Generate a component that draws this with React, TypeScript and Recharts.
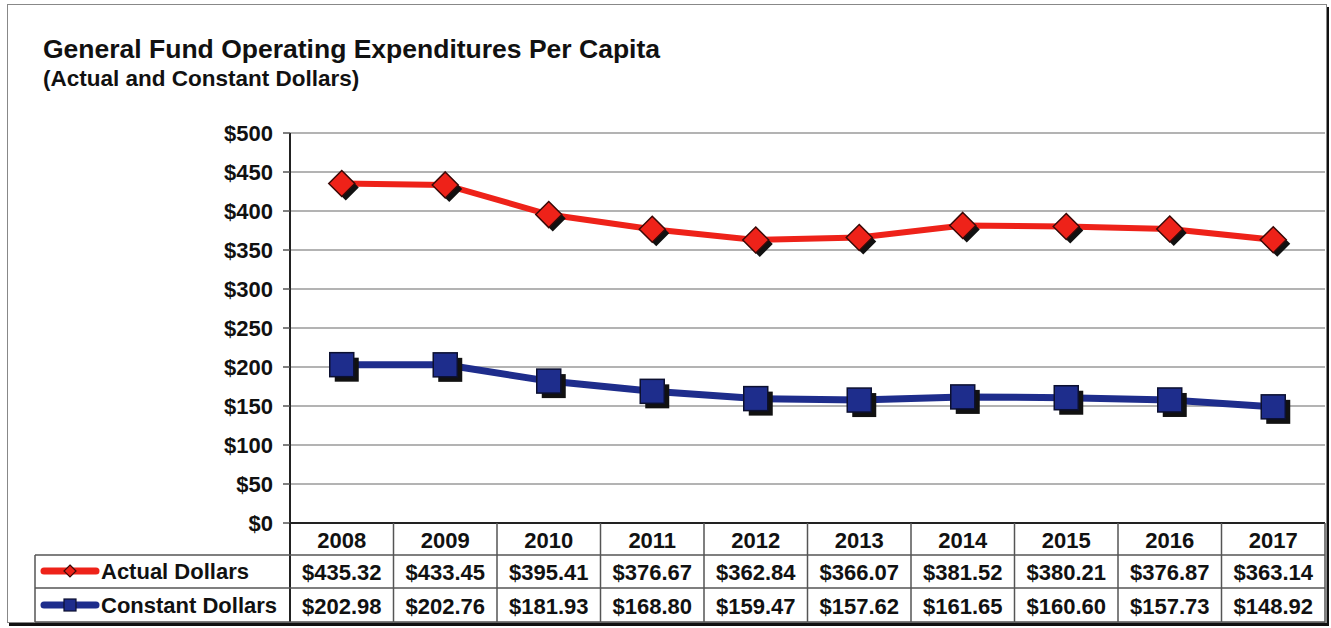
import React from 'react';
import { CartesianGrid, Line, LineChart, XAxis, YAxis } from 'recharts';

const years = ['2008', '2009', '2010', '2011', '2012', '2013', '2014', '2015', '2016', '2017'];
const actualDollars = [435.32, 433.45, 395.41, 376.67, 362.84, 366.07, 381.52, 380.21, 376.87, 363.14];
const constantDollars = [202.98, 202.76, 181.93, 168.8, 159.47, 157.62, 161.65, 160.6, 157.73, 148.92];
const yTicks = [0, 50, 100, 150, 200, 250, 300, 350, 400, 450, 500];

const data = years.map((year, i) => ({
  year,
  actual: actualDollars[i],
  constant: constantDollars[i],
}));

const FONT = '"Liberation Sans", Arial, sans-serif';
const W = 1331;
const H = 628;
const PLOT_LEFT = 290;
const PLOT_RIGHT = 1325;
const PLOT_TOP = 133;
const AXIS_H = 100;
const RED = '#ee2219';
const BLUE = '#1e2d8c';
const TABLE_LINE = '#555';

function money(v: number) {
  return `$${v.toFixed(2)}`;
}

function TableTick(props: any) {
  const { x, y, payload } = props;
  const i = years.indexOf(String(payload.value));
  const colW = (PLOT_RIGHT - PLOT_LEFT) / years.length;
  const l = x - colW / 2;
  const r = x + colW / 2;
  const textStyle = { fontFamily: FONT, fontSize: 22, fontWeight: 700, fill: '#111' };
  return (
    <g>
      {i === 0 && <line x1={l} y1={y} x2={l} y2={y + 99} stroke="#222" strokeWidth={2} />}
      <line x1={r} y1={y} x2={r} y2={y + 99} stroke={TABLE_LINE} strokeWidth={1.5} />
      <line x1={l} y1={y + 32} x2={r} y2={y + 32} stroke={TABLE_LINE} strokeWidth={1.5} />
      <line x1={l} y1={y + 65} x2={r} y2={y + 65} stroke={TABLE_LINE} strokeWidth={1.5} />
      <line x1={l} y1={y + 99} x2={r} y2={y + 99} stroke={TABLE_LINE} strokeWidth={1.5} />
      <text x={x} y={y + 25} textAnchor="middle" style={textStyle}>{payload.value}</text>
      <text x={x} y={y + 57} textAnchor="middle" style={textStyle}>{money(actualDollars[i])}</text>
      <text x={x} y={y + 91} textAnchor="middle" style={textStyle}>{money(constantDollars[i])}</text>
    </g>
  );
}

function DiamondDot(props: any) {
  const { cx, cy } = props;
  if (cx == null || cy == null) return null;
  const s = 13;
  const d = (ox: number, oy: number) =>
    `M${cx + ox},${cy + oy - s}L${cx + ox + s},${cy + oy}L${cx + ox},${cy + oy + s}L${cx + ox - s},${cy + oy}Z`;
  return (
    <g>
      <path d={d(4, 4)} fill="#111" />
      <path d={d(0, 0)} fill={RED} stroke="#3a0a08" strokeWidth={1.5} />
    </g>
  );
}

function SquareDot(props: any) {
  const { cx, cy } = props;
  if (cx == null || cy == null) return null;
  const s = 12;
  return (
    <g>
      <rect x={cx - s + 5} y={cy - s + 5} width={s * 2} height={s * 2} fill="#111" />
      <rect x={cx - s} y={cy - s} width={s * 2} height={s * 2} fill={BLUE} stroke="#0c1030" strokeWidth={1.5} />
    </g>
  );
}

function LegendColumn() {
  const textStyle = { fontFamily: FONT, fontSize: 22, fontWeight: 700, fill: '#111' };
  return (
    <svg width={W} height={H} style={{ position: 'absolute', left: 0, top: 0, pointerEvents: 'none' }}>
      <line x1={35} y1={555} x2={PLOT_LEFT} y2={555} stroke={TABLE_LINE} strokeWidth={1.5} />
      <line x1={35} y1={588} x2={PLOT_LEFT} y2={588} stroke={TABLE_LINE} strokeWidth={1.5} />
      <line x1={35} y1={622} x2={PLOT_LEFT} y2={622} stroke={TABLE_LINE} strokeWidth={1.5} />
      <line x1={35} y1={555} x2={35} y2={622} stroke={TABLE_LINE} strokeWidth={1.5} />

      <line x1={44} y1={571} x2={96} y2={571} stroke={RED} strokeWidth={7} strokeLinecap="round" />
      <path d="M70,565L76,571L70,577L64,571Z" fill={RED} stroke="#3a0a08" strokeWidth={1.2} />
      <text x={101} y={579} style={textStyle}>Actual Dollars</text>

      <line x1={44} y1={605} x2={96} y2={605} stroke={BLUE} strokeWidth={7} strokeLinecap="round" />
      <rect x={64} y={599} width={12} height={12} fill={BLUE} stroke="#0c1030" strokeWidth={1.2} />
      <text x={101} y={613} style={textStyle}>Constant Dollars</text>
    </svg>
  );
}

export default function App() {
  return (
    <div style={{ position: 'relative', width: W, height: H, background: '#fff', fontFamily: FONT }}>
      <style>{'body{margin:0}'}</style>
      <div
        style={{
          position: 'absolute',
          left: 7,
          top: 4,
          width: 1318,
          height: 617,
          border: '1px solid #888',
          boxShadow: '2px 3px 0 #111',
        }}
      />
      <div style={{ position: 'absolute', left: 43, top: 34, fontSize: 26.5, fontWeight: 700, color: '#111', whiteSpace: 'nowrap' }}>
        General Fund Operating Expenditures Per Capita
      </div>
      <div style={{ position: 'absolute', left: 43, top: 66, fontSize: 22.5, fontWeight: 700, color: '#111', whiteSpace: 'nowrap' }}>
        (Actual and Constant Dollars)
      </div>
      <div style={{ position: 'absolute', left: 0, top: 0 }}>
        <LineChart
          width={W}
          height={H}
          data={data}
          margin={{ top: PLOT_TOP, right: W - PLOT_RIGHT, left: PLOT_LEFT - 80, bottom: H - 523 - AXIS_H }}
        >
          <CartesianGrid vertical={false} stroke="#9a9a9a" strokeWidth={1.5} />
          <XAxis
            dataKey="year"
            scale="band"
            height={AXIS_H}
            interval={0}
            tickLine={false}
            tickSize={0}
            tickMargin={0}
            axisLine={{ stroke: '#222', strokeWidth: 2 }}
            tick={<TableTick />}
          />
          <YAxis
            domain={[0, 500]}
            ticks={yTicks}
            interval={0}
            width={80}
            tickSize={7}
            tickMargin={10}
            tickFormatter={(v) => `$${v}`}
            axisLine={{ stroke: '#222', strokeWidth: 2 }}
            tickLine={{ stroke: '#555', strokeWidth: 1.5 }}
            tick={{ fontFamily: FONT, fontSize: 22, fontWeight: 700, fill: '#111' }}
          />
          <YAxis
            yAxisId="frame"
            orientation="right"
            width={0}
            tick={false}
            tickLine={false}
            axisLine={{ stroke: '#888', strokeWidth: 1.5 }}
          />
          <Line
            dataKey="actual"
            stroke={RED}
            strokeWidth={6}
            dot={<DiamondDot />}
            activeDot={false}
            isAnimationActive={false}
          />
          <Line
            dataKey="constant"
            stroke={BLUE}
            strokeWidth={7}
            dot={<SquareDot />}
            activeDot={false}
            isAnimationActive={false}
          />
        </LineChart>
      </div>
      <LegendColumn />
    </div>
  );
}
